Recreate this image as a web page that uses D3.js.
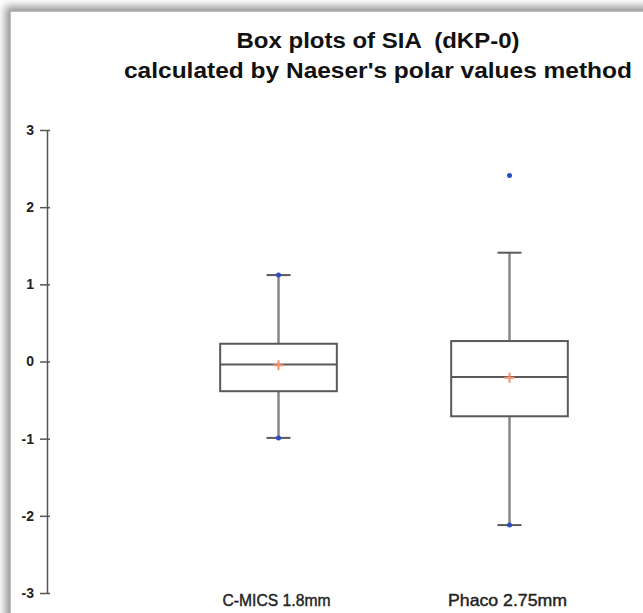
<!DOCTYPE html>
<html lang="en">
<head>
  <meta charset="UTF-8">
  <title></title>
  <style>
    html, body {
      margin: 0;
      overflow: hidden;
      width: 100%;
      height: 100%;
      background: white;
    }
    svg {
      position: absolute;
      top: 0;
      left: 0;
      width: 643px;
      height: 613px;
      font-family: "Liberation Sans", Arial, sans-serif;
    }
  </style>
</head>
<body>
  <svg></svg>
</body>
<script src="https://d3js.org/d3.v7.min.js"></script>
<script type="text/javascript">
  // data
  const categories = ['C-MICS 1.8mm', 'Phaco 2.75mm']
  const q1 = [-0.385, -0.71]
  const median = [-0.04, -0.2]
  const q3 = [0.23, 0.265]
  const whiskerLow = [-0.99, -2.12]
  const whiskerHigh = [1.12, 1.41]
  const means = [-0.05, -0.21]
  const minVals = [-0.99, -2.12]
  const maxVals = [1.12, 2.41]
  const yTicks = [-3, -2, -1, 0, 1, 2, 3]
  const titleLines = ['Box plots of SIA  (dKP-0)', "calculated by Naeser's polar values method"]

  const boxes = categories.map((c, i) => ({
    cat: c,
    q1: q1[i], med: median[i], q3: q3[i],
    lo: whiskerLow[i], hi: whiskerHigh[i],
    mean: means[i], min: minVals[i], max: maxVals[i]
  }))

  const svg = d3.select('svg')

  // frame with soft shadow up and left
  const defs = svg.append('defs')
  const f = defs.append('filter').attr('id', 'shadow')
    .attr('x', '-10%').attr('y', '-10%').attr('width', '130%').attr('height', '130%')
  f.append('feDropShadow')
    .attr('dx', -4).attr('dy', -4)
    .attr('stdDeviation', 4)
    .attr('flood-color', '#777')
    .attr('flood-opacity', 0.8)

  svg.append('rect')
    .attr('x', 10).attr('y', 11)
    .attr('width', 700).attr('height', 700)
    .attr('fill', 'white')
    .attr('stroke', '#a8a8a8')
    .attr('stroke-width', 1.5)
    .attr('filter', 'url(#shadow)')

  const y = d3.scaleLinear().domain([-3, 3]).range([593, 130])
  const x = d3.scaleBand().domain(categories).range([163, 625])
  const boxW = x.bandwidth() * 0.505
  const cx = d => x(d.cat) + x.bandwidth() / 2

  // title
  svg.append('g').selectAll('text')
    .data(titleLines)
    .enter()
    .append('text')
    .attr('x', 378)
    .attr('y', (d, i) => 48 + i * 30)
    .attr('text-anchor', 'middle')
    .style('white-space', 'pre')
    .attr('font-size', 22)
    .attr('font-weight', 'bold')
    .attr('fill', '#111')
    .attr('textLength', (d, i) => i === 0 ? 283 : 508)
    .attr('lengthAdjust', 'spacingAndGlyphs')
    .text(d => d)

  // y axis
  const axis = svg.append('g')
    .attr('transform', 'translate(47,0)')
    .call(d3.axisLeft(y).tickValues(yTicks).tickFormat(d => String(d))
      .tickSize(7).tickSizeOuter(0).tickPadding(6))
  axis.select('.domain').attr('stroke', '#555').attr('stroke-width', 1.5)
  axis.selectAll('.tick line').attr('x2', -7).attr('x1', 3).attr('stroke', '#555').attr('stroke-width', 1.5)
  axis.selectAll('.tick text')
    .attr('font-size', 14)
    .attr('font-weight', 'bold')
    .attr('fill', '#222')
    .attr('font-family', '"Liberation Sans", Arial, sans-serif')

  const g = svg.append('g')

  // whiskers
  g.selectAll('line.wlo')
    .data(boxes)
    .enter()
    .append('line')
    .attr('x1', cx).attr('x2', cx)
    .attr('y1', d => y(d.q1)).attr('y2', d => y(d.lo))
    .attr('stroke', '#8a8585').attr('stroke-width', 2.5)
  g.selectAll('line.whi')
    .data(boxes)
    .enter()
    .append('line')
    .attr('x1', cx).attr('x2', cx)
    .attr('y1', d => y(d.q3)).attr('y2', d => y(d.hi))
    .attr('stroke', '#8a8585').attr('stroke-width', 2.5)

  // caps
  boxes.forEach(d => {
    [d.lo, d.hi].forEach(v => {
      g.append('line')
        .attr('x1', cx(d) - 12).attr('x2', cx(d) + 12)
        .attr('y1', y(v)).attr('y2', y(v))
        .attr('stroke', '#5c5858').attr('stroke-width', 2)
    })
  })

  // boxes
  g.selectAll('rect.box')
    .data(boxes)
    .enter()
    .append('rect')
    .attr('x', d => cx(d) - boxW / 2)
    .attr('y', d => y(d.q3))
    .attr('width', boxW)
    .attr('height', d => y(d.q1) - y(d.q3))
    .attr('fill', 'none')
    .attr('stroke', '#5c5858')
    .attr('stroke-width', 2)

  // medians
  g.selectAll('line.med')
    .data(boxes)
    .enter()
    .append('line')
    .attr('x1', d => cx(d) - boxW / 2).attr('x2', d => cx(d) + boxW / 2)
    .attr('y1', d => y(d.med)).attr('y2', d => y(d.med))
    .attr('stroke', '#5c5858').attr('stroke-width', 2)

  // means
  g.selectAll('path.mean')
    .data(boxes)
    .enter()
    .append('path')
    .attr('d', d => {
      const px = cx(d), py = y(d.mean)
      return 'M ' + (px - 5) + ',' + py + ' h 10 M ' + px + ',' + (py - 5) + ' v 10'
    })
    .attr('stroke', '#f4906c').attr('stroke-width', 2).attr('fill', 'none')

  // min / max points
  const pts = []
  boxes.forEach(d => { pts.push({ cat: d.cat, v: d.min }); pts.push({ cat: d.cat, v: d.max }) })
  g.selectAll('circle')
    .data(pts)
    .enter()
    .append('circle')
    .attr('cx', cx)
    .attr('cy', d => y(d.v))
    .attr('r', 2.5)
    .attr('fill', '#2a4cc4')

  // category labels
  g.selectAll('text.cat')
    .data(categories)
    .enter()
    .append('text')
    .attr('x', c => x(c) + x.bandwidth() / 2 - 2)
    .attr('y', 606)
    .attr('text-anchor', 'middle')
    .attr('font-size', 16)
    .attr('fill', '#222')
    .attr('stroke', '#222')
    .attr('stroke-width', 0.4)
    .attr('textLength', (c, i) => i === 0 ? 108 : 119)
    .attr('lengthAdjust', 'spacingAndGlyphs')
    .text(c => c)
</script>
</html>
